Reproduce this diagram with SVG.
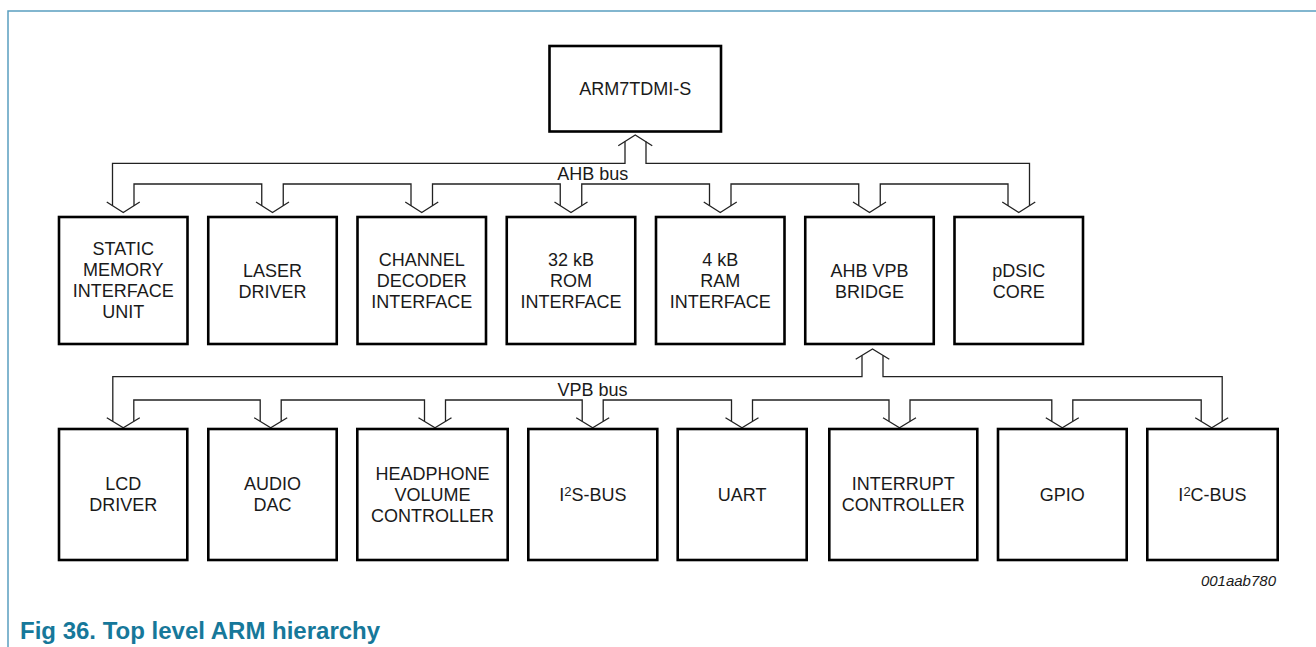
<svg xmlns="http://www.w3.org/2000/svg" width="1316" height="647" viewBox="0 0 1316 647">
<style>
.box{fill:#fff;stroke:#000;stroke-width:2.6}
.bus{fill:none;stroke:#222;stroke-width:1.3;stroke-linejoin:miter}
text{font-family:"Liberation Sans",Arial,sans-serif;font-size:18px;fill:#1a1a1a;text-anchor:middle}
.frame{fill:none;stroke:#5a9fc0;stroke-width:1.5}
.cap{font-size:24px;font-weight:bold;fill:#16789a;text-anchor:start}
.id{font-size:15px;font-style:italic;text-anchor:end}
</style>
<rect width="1316" height="647" fill="#fff"/>
<path class="frame" d="M8,647 V11 H1316"/>
<g id="connectors">
<path class="bus" d="M112.5,205.7 V163.3 H625 V141.6 M646,141.6 V163.3 H1029.5 V205.7"/>
<path class="bus" d="M618.25,145.7 L635.25,135 L652.25,145.7"/>
<path class="bus" d="M134,205.7 V184 H261.75 V205.7 M283.25,205.7 V184 H411 V205.7 M432.5,205.7 V184 H560.25 V205.7 M581.75,205.7 V184 H709.5 V205.7 M731,205.7 V184 H858.75 V205.7 M880.25,205.7 V184 H1008 V205.7"/>
<path class="bus" d="M106.75,202 L123.25,212.5 L139.75,202 M256,202 L272.5,212.5 L289,202 M405.25,202 L421.75,212.5 L438.25,202 M554.5,202 L571,212.5 L587.5,202 M703.75,202 L720.25,212.5 L736.75,202 M853,202 L869.5,212.5 L886,202 M1002.25,202 L1018.75,212.5 L1035.25,202"/>
<text x="592.7" y="180">AHB bus</text>
<path class="bus" d="M112.8,421.3 V376.7 H862 V355.4 M883,355.4 V376.7 H1222.2 V421.3"/>
<path class="bus" d="M855.7,359.3 L872.5,349 L889.3,359.3"/>
<path class="bus" d="M133.8,421.3 V400 H260.2 V421.3 M281.2,421.3 V400 H424.5 V421.3 M445.5,421.3 V400 H582.2 V421.3 M603.2,421.3 V400 H731.5 V421.3 M752.5,421.3 V400 H889 V421.3 M910,421.3 V400 H1051.8 V421.3 M1072.8,421.3 V400 H1201.2 V421.3"/>
<path class="bus" d="M106.8,417.7 L123.3,427.7 L139.8,417.7 M254.2,417.7 L270.7,427.7 L287.2,417.7 M418.5,417.7 L435,427.7 L451.5,417.7 M576.2,417.7 L592.7,427.7 L609.2,417.7 M725.5,417.7 L742,427.7 L758.5,417.7 M883,417.7 L899.5,427.7 L916,417.7 M1045.8,417.7 L1062.3,427.7 L1078.8,417.7 M1195.2,417.7 L1211.7,427.7 L1228.2,417.7"/>
<text x="592.5" y="396">VPB bus</text>
</g>
<g id="arm7"><rect class="box" x="549.5" y="46" width="171.5" height="85.5"/><text x="635.25" y="95">ARM7TDMI-S</text></g>
<g id="smi"><rect class="box" x="59" y="217" width="128.5" height="127"/><text x="123.25" y="255">STATIC</text><text x="123.25" y="276">MEMORY</text><text x="123.25" y="297">INTERFACE</text><text x="123.25" y="318">UNIT</text></g>
<g id="laser"><rect class="box" x="208.25" y="217" width="128.5" height="127"/><text x="272.5" y="276.5">LASER</text><text x="272.5" y="297.5">DRIVER</text></g>
<g id="chdec"><rect class="box" x="357.5" y="217" width="128.5" height="127"/><text x="421.75" y="266">CHANNEL</text><text x="421.75" y="287">DECODER</text><text x="421.75" y="308">INTERFACE</text></g>
<g id="rom"><rect class="box" x="506.75" y="217" width="128.5" height="127"/><text x="571" y="266">32 kB</text><text x="571" y="287">ROM</text><text x="571" y="308">INTERFACE</text></g>
<g id="ram"><rect class="box" x="656" y="217" width="128.5" height="127"/><text x="720.25" y="266">4 kB</text><text x="720.25" y="287">RAM</text><text x="720.25" y="308">INTERFACE</text></g>
<g id="bridge"><rect class="box" x="805.25" y="217" width="128.5" height="127"/><text x="869.5" y="276.5">AHB VPB</text><text x="869.5" y="297.5">BRIDGE</text></g>
<g id="pdsic"><rect class="box" x="954.5" y="217" width="128.5" height="127"/><text x="1018.75" y="276.5">pDSIC</text><text x="1018.75" y="297.5">CORE</text></g>
<g id="lcd"><rect class="box" x="59" y="429" width="128.3" height="131"/><text x="123.15" y="490">LCD</text><text x="123.15" y="511">DRIVER</text></g>
<g id="dac"><rect class="box" x="208.3" y="429" width="128.4" height="131"/><text x="272.5" y="490">AUDIO</text><text x="272.5" y="511">DAC</text></g>
<g id="hpvol"><rect class="box" x="357.3" y="429" width="150.4" height="131"/><text x="432.5" y="480">HEADPHONE</text><text x="432.5" y="501">VOLUME</text><text x="432.5" y="522">CONTROLLER</text></g>
<g id="i2s"><rect class="box" x="528.3" y="429" width="129" height="131"/><text x="592.8" y="501">I<tspan font-size="13" dy="-5">2</tspan><tspan dy="5">S-BUS</tspan></text></g>
<g id="uart"><rect class="box" x="677.7" y="429" width="129" height="131"/><text x="742.2" y="501">UART</text></g>
<g id="intc"><rect class="box" x="829.3" y="429" width="148" height="131"/><text x="903.3" y="490">INTERRUPT</text><text x="903.3" y="511">CONTROLLER</text></g>
<g id="gpio"><rect class="box" x="998" y="429" width="128.7" height="131"/><text x="1062.35" y="501">GPIO</text></g>
<g id="i2c"><rect class="box" x="1147.3" y="429" width="130.4" height="131"/><text x="1212.5" y="501">I<tspan font-size="13" dy="-5">2</tspan><tspan dy="5">C-BUS</tspan></text></g>
<text class="id" x="1276" y="586">001aab780</text>
<text class="cap" x="20" y="639">Fig 36. Top level ARM hierarchy</text>
</svg>
